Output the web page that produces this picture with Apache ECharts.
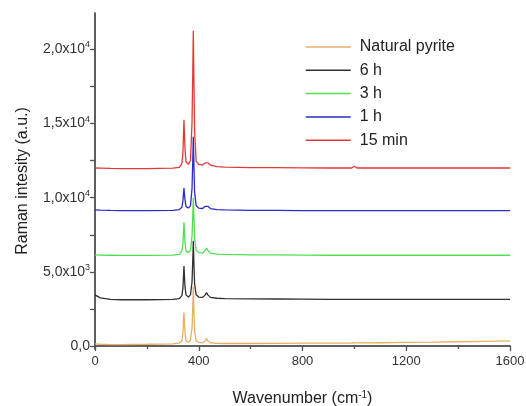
<!DOCTYPE html>
<html><head><meta charset="utf-8">
<script src="https://cdn.jsdelivr.net/npm/echarts@6/dist/echarts.min.js"></script>
<style>html,body{margin:0;padding:0;background:#fff}#c{width:526px;height:406px}</style>
</head><body><div id="c"></div>
<script>
var wavenumber = [0,20,60,100,200,300,325,335,339,343,347,351,360,368,374,377,379,381,384,390,400,415,425,430,435,445,470,500,600,700,800,900,990,1000,1010,1100,1200,1300,1400,1500,1600];
var naturalPyrite = [150,120,100,100,120,150,200,350,900,2250,900,350,250,400,1200,2600,4000,2600,1000,350,250,220,350,500,350,220,180,170,170,180,190,200,205,210,210,220,240,260,290,320,350];
var h6 = [3450,3250,3150,3120,3120,3150,3200,3400,3900,5400,4000,3450,3300,3450,4300,5800,7100,5800,4200,3450,3300,3280,3450,3600,3450,3280,3220,3200,3180,3170,3160,3150,3150,3150,3150,3150,3140,3140,3140,3140,3140];
var h3 = [6150,6130,6120,6110,6110,6130,6180,6400,6900,8350,7000,6400,6300,6450,7400,8800,10000,8800,7300,6450,6300,6270,6450,6600,6450,6270,6200,6180,6150,6140,6130,6120,6120,6120,6120,6120,6120,6120,6120,6120,6120];
var h1 = [9180,9160,9140,9130,9130,9150,9200,9350,9800,10650,9850,9400,9300,9450,10600,12500,14100,12500,10400,9450,9300,9270,9420,9550,9420,9270,9200,9180,9150,9140,9130,9130,9130,9130,9130,9130,9130,9130,9130,9130,9130];
var min15 = [12000,11990,11970,11960,11960,11990,12050,12300,13000,15250,13300,12400,12250,12500,15000,18500,21250,18500,14500,12450,12250,12200,12350,12450,12350,12200,12100,12060,12030,12020,12010,12000,12000,12120,12000,12000,12000,12000,12000,12000,12000];
var seriesNames = ['Natural pyrite','6 h','3 h','1 h','15 min'];
var seriesColors = ['#E6B062','#303030','#4FE04F','#2B2BC8','#E23A3A'];
var xTickLabels = [0,400,800,1200,1600];
var yTickLabels = [0,5000,10000,15000,20000];

var allData = [naturalPyrite,h6,h3,h1,min15];
function pairs(ys){return wavenumber.map(function(x,i){return [x,ys[i]];});}
function yFmt(v){
  if(v===0) return '{b|0,0}';
  var e = Math.floor(Math.log10(v));
  var m = (v/Math.pow(10,e)).toFixed(1).replace('.',',');
  return '{b|'+m+'x10}{s|'+e+'}';
}
var axisColor = '#555';
var series = [];
for (var k=allData.length-1;k>=0;k--){
  series.push({name:seriesNames[k],type:'line',data:pairs(allData[k]),symbol:'none',showSymbol:false,
    lineStyle:{color:seriesColors[k],width:1.3},itemStyle:{color:seriesColors[k]},
    animation:false,z:2+(allData.length-k)});
}
var chart = echarts.init(document.getElementById('c'));
chart.setOption({
  animation:false,
  grid:{left:95,right:16,top:13,bottom:57,containLabel:false,outerBoundsMode:'none'},
  legend:{data:seriesNames,left:300,top:34,orient:'vertical',itemWidth:45,itemHeight:14,itemGap:7.3,
    itemStyle:{opacity:0},lineStyle:{width:1.5},
    textStyle:{fontFamily:'Liberation Sans',fontSize:16,color:'#222',padding:[0,0,0,4]}},
  xAxis:[{type:'value',min:0,max:1600,interval:400,
    name:'Wavenumber (cm{s|-1})',nameLocation:'middle',nameGap:41,
    nameTextStyle:{fontFamily:'Liberation Sans',fontSize:16,color:'#222',
      rich:{s:{fontSize:10,verticalAlign:'top',padding:[0,0,8,0],fontFamily:'Liberation Sans',color:'#222'}}},
    axisLine:{lineStyle:{color:axisColor,width:1.5}},
    axisTick:{show:true,inside:false,length:5,lineStyle:{color:axisColor,width:1.2}},
    minorTick:{show:true,splitNumber:2,length:3,lineStyle:{color:axisColor,width:1.2}},
    axisLabel:{customValues:xTickLabels,formatter:function(v){return String(v);},fontFamily:'Liberation Sans',fontSize:13,color:'#333',margin:6},
    splitLine:{show:false}},
   {type:'value',min:0,max:1600,interval:400,position:'top',
    axisLine:{show:true,lineStyle:{color:axisColor,width:1.5}},
    axisTick:{show:true,inside:true,length:4,lineStyle:{color:axisColor,width:1.2}},
    minorTick:{show:true,splitNumber:2,length:3,lineStyle:{color:axisColor,width:1.2}},
    axisLabel:{show:false},splitLine:{show:false}}],
  yAxis:[{type:'value',min:-200,max:22450,
    name:'Raman intesity (a.u.)',nameLocation:'middle',nameGap:64,
    nameTextStyle:{fontFamily:'Liberation Sans',fontSize:16,color:'#222'},
    axisLine:{lineStyle:{color:axisColor,width:1.5}},
    axisTick:{show:true,inside:false,length:5,customValues:[0,2500,5000,7500,10000,12500,15000,17500,20000],lineStyle:{color:axisColor,width:1.2}},
    axisLabel:{customValues:yTickLabels,formatter:yFmt,margin:5,
      rich:{b:{fontFamily:'Liberation Sans',fontSize:14,color:'#333'},
            s:{fontFamily:'Liberation Sans',fontSize:9,color:'#333',verticalAlign:'top',padding:[0,0,9,0]}}},
    splitLine:{show:false}},
   {type:'value',min:-200,max:22450,position:'right',
    axisLine:{show:true,lineStyle:{color:axisColor,width:1.5}},
    axisTick:{show:true,inside:true,length:4,customValues:[0,2500,5000,7500,10000,12500,15000,17500,20000],lineStyle:{color:axisColor,width:1.2}},
    axisLabel:{show:false},splitLine:{show:false}}],
  series:series
});
</script></body></html>
